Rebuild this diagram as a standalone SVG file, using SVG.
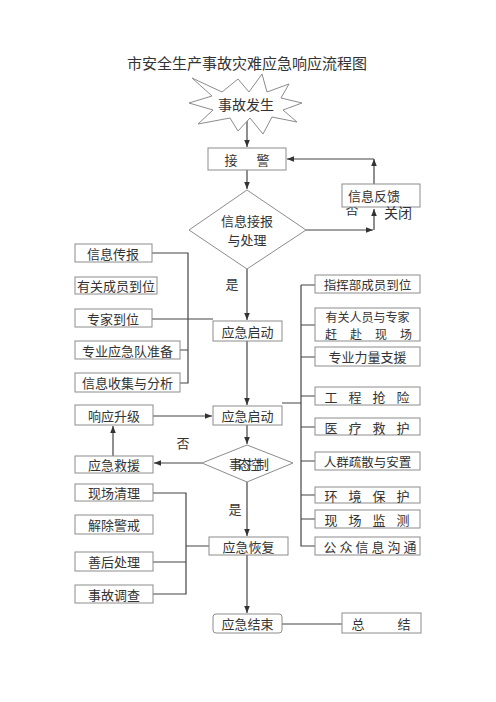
<svg xmlns="http://www.w3.org/2000/svg" width="496" height="702" viewBox="0 0 496 702">
<style>
text{font-family:"Noto Sans CJK SC","Liberation Serif",serif;fill:#333;font-size:13px;text-anchor:middle;dominant-baseline:central}
.b{fill:#fff;stroke:#8c8c8c;stroke-width:1}
.c{fill:none;stroke:#444;stroke-width:1.2}
.a{marker-end:url(#ah)}
</style>
<defs>
<marker id="ah" viewBox="0 0 10 10" refX="10" refY="5" markerWidth="7" markerHeight="7" orient="auto" markerUnits="userSpaceOnUse"><path d="M0,1 L10,5 L0,9 z" fill="#333"/></marker>
</defs>
<rect width="496" height="702" fill="#fff"/>
<text x="247" y="62" style="font-size:15px">市安全生产事故灾难应急响应流程图</text>

<g id="connectors">
<path class="c a" d="M247,118 V147"/>
<path class="c a" d="M247,170 V189"/>
<path class="c a" d="M306,230 H373"/>
<path class="c a" d="M374,230 V209"/>
<path class="c a" d="M374,184 V159"/>
<path class="c a" d="M374,159 H287"/>
<path class="c a" d="M247,269 V320"/>
<path class="c a" d="M247,341 V405"/>
<path class="c" d="M152,253 H188 V383 H180 M180,350 H188"/>
<path class="c" d="M152,319 H213"/>
<path class="c" d="M282,403 H301 M301,285 V546 H315 M301,285 H315 M301,325 H315 M301,357 H315 M301,396 H315 M301,427 H315 M301,461 H315 M301,495 H315 M301,519 H315"/>
<path class="c a" d="M153,416 H212"/>
<path class="c a" d="M247,425 V444"/>
<path class="c a" d="M202,463 H154"/>
<path class="c a" d="M113,456 V426"/>
<path class="c a" d="M247,482 V536"/>
<path class="c" d="M153,493 H186 V594 H153 M153,562 H186 M186,546 H209"/>
<path class="c a" d="M247,555 V613"/>
<path class="c" d="M282,624 H342"/>
</g>

<g id="start">
<path class="b" d="M192,78 L222,92 L238,79 L249,92 L262,74 L267,92 L289,84 L281,98 L302,103 L283,110 L297,122 L272,117 L263,134 L250,118 L238,131 L230,118 L198,124 L213,110 L189,103 L212,96 Z"/>
<text x="246" y="104" style="font-size:14px">事故发生</text>
</g>
<g id="jiejing"><rect class="b" x="208" y="148" width="78" height="22"/><text y="159"><tspan x="231">接</tspan><tspan x="263">警</tspan></text></g>
<g id="d1"><polygon class="b" points="247,190 306,230 247,269 189,230"/><text x="247" y="220">信息接报</text><text x="247" y="239">与处理</text></g>
<text x="352" y="208">否</text>
<g id="fankui"><rect class="b" x="342" y="184" width="78" height="23"/><text x="374" y="195">信息反馈</text></g>
<text x="398" y="212" style="font-size:14px">关闭</text>
<text x="232" y="283">是</text>

<g id="l1"><rect class="b" x="75" y="244" width="77" height="18"/><text x="113" y="253">信息传报</text></g>
<g id="l2"><rect class="b" x="75" y="277" width="82" height="17"/><text x="116" y="285.5">有关成员到位</text></g>
<g id="l3"><rect class="b" x="75" y="309" width="77" height="18"/><text x="113" y="318">专家到位</text></g>
<g id="l4"><rect class="b" x="75" y="341" width="105" height="18"/><text x="127.5" y="350">专业应急队准备</text></g>
<g id="l5"><rect class="b" x="75" y="373" width="105" height="19"/><text x="127.5" y="382.5">信息收集与分析</text></g>

<g id="qd1"><rect class="b" x="213" y="321" width="69" height="20"/><text x="247.5" y="331">应急启动</text></g>
<g id="qd2"><rect class="b" x="213" y="406" width="69" height="19"/><text x="247.5" y="415.5">应急启动</text></g>

<g id="r1"><rect class="b" x="315" y="275" width="105" height="18"/><text x="367.5" y="284" style="font-size:12.5px">指挥部成员到位</text></g>
<g id="r2"><rect class="b" x="315" y="308" width="105" height="33"/><text x="367.5" y="316.5" style="font-size:12px">有关人员与专家</text><text y="333" style="font-size:12px"><tspan x="331">赶</tspan><tspan x="356">赴</tspan><tspan x="381">现</tspan><tspan x="406">场</tspan></text></g>
<g id="r3"><rect class="b" x="315" y="347" width="105" height="19"/><text x="367.5" y="356.5">专业力量支援</text></g>
<g id="r4"><rect class="b" x="315" y="387" width="105" height="18"/><text y="396"><tspan x="331">工</tspan><tspan x="355">程</tspan><tspan x="379">抢</tspan><tspan x="403">险</tspan></text></g>
<g id="r5"><rect class="b" x="315" y="418" width="105" height="17"/><text y="426.5"><tspan x="331">医</tspan><tspan x="355">疗</tspan><tspan x="379">救</tspan><tspan x="403">护</tspan></text></g>
<g id="r6"><rect class="b" x="315" y="452" width="105" height="18"/><text x="367.5" y="461" style="font-size:12.5px">人群疏散与安置</text></g>
<g id="r7"><rect class="b" x="315" y="487" width="105" height="16"/><text y="495"><tspan x="331">环</tspan><tspan x="355">境</tspan><tspan x="379">保</tspan><tspan x="403">护</tspan></text></g>
<g id="r8"><rect class="b" x="315" y="510" width="105" height="18"/><text y="519"><tspan x="331">现</tspan><tspan x="355">场</tspan><tspan x="379">监</tspan><tspan x="403">测</tspan></text></g>
<g id="r9"><rect class="b" x="315" y="537" width="105" height="18"/><text y="546"><tspan x="330">公</tspan><tspan x="346">众</tspan><tspan x="362">信</tspan><tspan x="378">息</tspan><tspan x="394">沟</tspan><tspan x="410">通</tspan></text></g>

<g id="shengji"><rect class="b" x="75" y="405" width="78" height="20"/><text x="114" y="415">响应升级</text></g>
<text x="183" y="442">否</text>
<g id="d2"><polygon class="b" points="247,445 293,463 247,482 202,463"/><text x="247" y="463" style="letter-spacing:-4px">事态控制</text></g>
<g id="jiuyuan"><rect class="b" x="75" y="456" width="78" height="17"/><text x="114" y="464.5">应急救援</text></g>
<text x="235" y="508">是</text>

<g id="m1"><rect class="b" x="75" y="484" width="78" height="17"/><text x="114" y="492.5">现场清理</text></g>
<g id="m2"><rect class="b" x="75" y="515" width="78" height="19"/><text x="114" y="524.5">解除警戒</text></g>
<g id="m3"><rect class="b" x="75" y="552" width="78" height="19"/><text x="114" y="561.5">善后处理</text></g>
<g id="m4"><rect class="b" x="75" y="585" width="78" height="18"/><text x="114" y="594">事故调查</text></g>
<g id="huifu"><rect class="b" x="209" y="537" width="79" height="18"/><text x="248.5" y="546">应急恢复</text></g>

<g id="jieshu"><rect class="b" x="213" y="614" width="69" height="19" rx="3"/><text x="247.5" y="623.5">应急结束</text></g>
<g id="zongjie"><rect class="b" x="342" y="613" width="79" height="20"/><text y="623"><tspan x="358">总</tspan><tspan x="404">结</tspan></text></g>
</svg>
